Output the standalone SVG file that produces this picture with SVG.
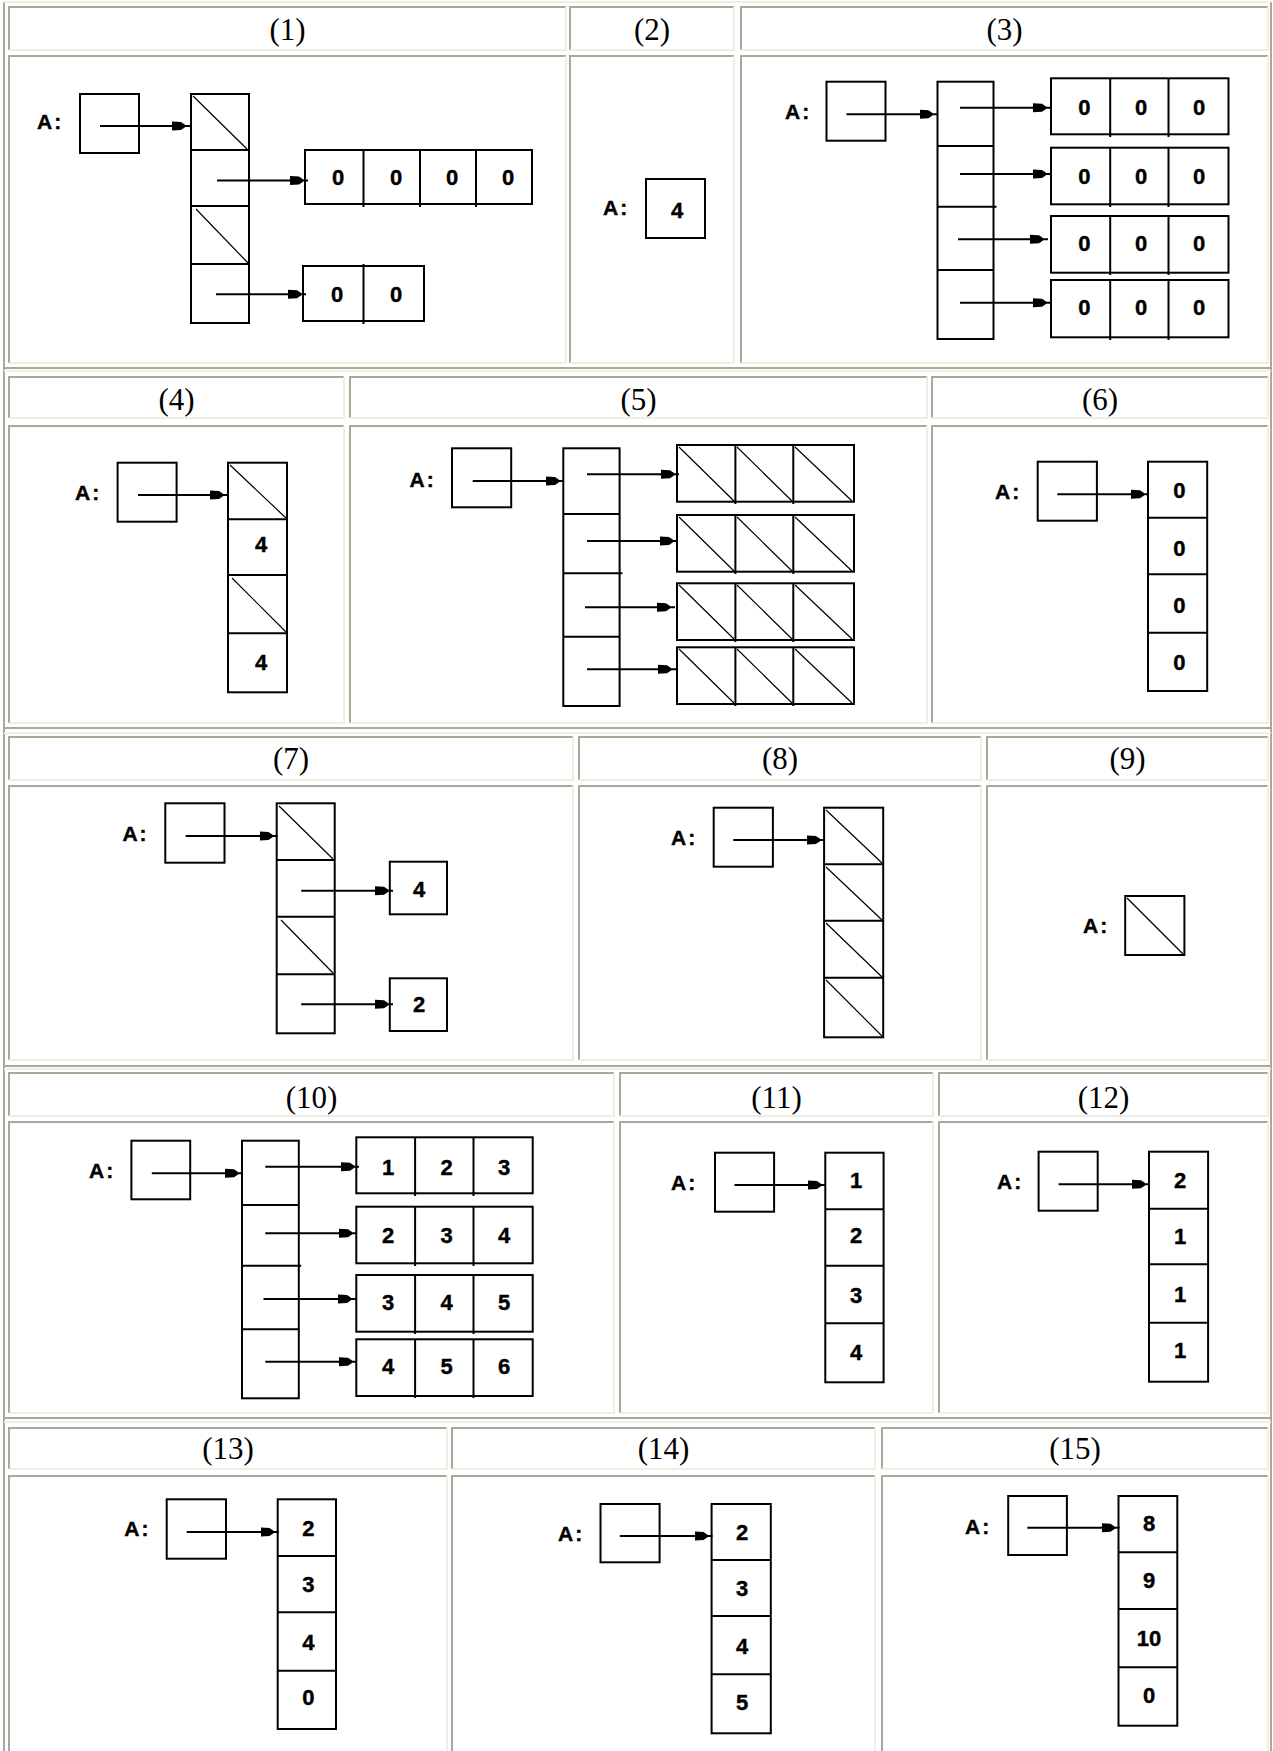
<svg xmlns="http://www.w3.org/2000/svg" width="1273" height="1751" viewBox="0 0 1273 1751">
<style>
.d{stroke:#aca899;stroke-width:2;fill:none}
.l{stroke:#f0eee0;stroke-width:2;fill:none}
.bx{fill:none;stroke:#000;stroke-width:2}
.dv{fill:none;stroke:#000;stroke-width:2}
.dg{fill:none;stroke:#000;stroke-width:1.2}
.ar{stroke:#000;stroke-width:2;fill:none;marker-end:url(#ah)}
.h{font-family:"Liberation Serif","Times New Roman",serif;font-size:31px;text-anchor:middle;fill:#000}
.a{font-family:"Liberation Sans",Arial,sans-serif;font-weight:bold;font-size:21px;letter-spacing:2px;fill:#000;stroke:#000;stroke-width:0.4}
.n{font-family:"Liberation Sans",Arial,sans-serif;font-weight:bold;font-size:22px;text-anchor:middle;fill:#000;stroke:#000;stroke-width:0.4}
</style>
<defs>
<marker id="ah" markerUnits="userSpaceOnUse" markerWidth="20" markerHeight="12" viewBox="0 -6 20 12" refX="18" refY="0" orient="auto">
<path d="M0,-4.5 L9,-4 L13,-1.2 L13,1.2 L9,4 L0,4.5 Z" fill="#000"/>
</marker>
</defs>
<rect x="0" y="0" width="1273" height="1751" fill="#fff"/>
<g id="table">
<path class="d" d="M4 2 V1751 M1271 2 V1751"/>
<path class="l" d="M4 2 H1271 M4 371 H1271 M4 733 H1271 M4 1069 H1271 M4 1422 H1271"/>
<path class="d" d="M4 368 H1271 M4 728 H1271 M4 1066 H1271 M4 1418 H1271"/>
<path class="d" d="M9 50 V7 H566 M570 50 V7 H734 M741 50 V7 H1268 M9 363 V56 H566 M570 363 V56 H734 M741 363 V56 H1268"/>
<path class="l" d="M566 7 V50 H9 M734 7 V50 H570 M1268 7 V50 H741 M566 56 V363 H9 M734 56 V363 H570 M1268 56 V363 H741"/>
<path class="d" d="M9 418 V377 H344 M350 418 V377 H927 M932 418 V377 H1268 M9 723 V426 H344 M350 723 V426 H927 M932 723 V426 H1268"/>
<path class="l" d="M344 377 V418 H9 M927 377 V418 H350 M1268 377 V418 H932 M344 426 V723 H9 M927 426 V723 H350 M1268 426 V723 H932"/>
<path class="d" d="M9 780 V737 H573 M579 780 V737 H981 M987 780 V737 H1268 M9 1060 V786 H573 M579 1060 V786 H981 M987 1060 V786 H1268"/>
<path class="l" d="M573 737 V780 H9 M981 737 V780 H579 M1268 737 V780 H987 M573 786 V1060 H9 M981 786 V1060 H579 M1268 786 V1060 H987"/>
<path class="d" d="M9 1116 V1073 H614 M620 1116 V1073 H933 M939 1116 V1073 H1268 M9 1413 V1122 H614 M620 1413 V1122 H933 M939 1413 V1122 H1268"/>
<path class="l" d="M614 1073 V1116 H9 M933 1073 V1116 H620 M1268 1073 V1116 H939 M614 1122 V1413 H9 M933 1122 V1413 H620 M1268 1122 V1413 H939"/>
<path class="d" d="M9 1469 V1428 H447 M452 1469 V1428 H875 M882 1469 V1428 H1268 M9 1760 V1476 H447 M452 1760 V1476 H875 M882 1760 V1476 H1268"/>
<path class="l" d="M447 1428 V1469 H9 M875 1428 V1469 H452 M1268 1428 V1469 H882 M447 1476 V1760 M875 1476 V1760 M1268 1476 V1760"/>
</g>
<g id="headers">
<text class="h" x="287.5" y="39.5">(1)</text>
<text class="h" x="652" y="39.5">(2)</text>
<text class="h" x="1004.5" y="39.5">(3)</text>
<text class="h" x="176.5" y="409.5">(4)</text>
<text class="h" x="638.5" y="409.5">(5)</text>
<text class="h" x="1100" y="409.5">(6)</text>
<text class="h" x="291" y="768.5">(7)</text>
<text class="h" x="780" y="768.5">(8)</text>
<text class="h" x="1127.5" y="768.5">(9)</text>
<text class="h" x="311.5" y="1107.5">(10)</text>
<text class="h" x="776.5" y="1107.5">(11)</text>
<text class="h" x="1103.5" y="1107.5">(12)</text>
<text class="h" x="228" y="1458.5">(13)</text>
<text class="h" x="663.5" y="1458.5">(14)</text>
<text class="h" x="1075" y="1458.5">(15)</text>
</g>
<g id="p1-A"><text class="a" x="37" y="129">A:</text><rect class="bx" x="80" y="94" width="59" height="59"/></g>
<g id="p1-col"><rect class="bx" x="191" y="94" width="58" height="229"/><path class="dv" d="M191 150 H249 M191 206 H249 M191 264 H249"/><path class="dg" d="M193 96 L247 149 M196 209 L248 263"/></g>
<g id="p1-row1"><rect class="bx" x="305" y="150" width="227" height="54"/><path class="dv" d="M363.5 150 V207 M420 150 V207 M476 150 V207"/><text class="n" x="338" y="185">0</text><text class="n" x="396" y="185">0</text><text class="n" x="452" y="185">0</text><text class="n" x="508" y="185">0</text></g>
<g id="p1-row2"><rect class="bx" x="303" y="266" width="121" height="55"/><path class="dv" d="M363.5 264 V324"/><text class="n" x="337" y="301.5">0</text><text class="n" x="396" y="301.5">0</text></g>
<g id="p2-A"><text class="a" x="603" y="214.5">A:</text><rect class="bx" x="646" y="179" width="59" height="59"/><text class="n" x="677" y="217.5">4</text></g>
<g id="p3-A"><text class="a" x="785" y="119">A:</text><rect class="bx" x="826.5" y="81.7" width="59" height="59"/></g>
<g id="p3-col"><rect class="bx" x="937.5" y="81.7" width="56" height="257.3"/><path class="dv" d="M937.5 146 H993.5 M937.5 206.7 H996.5 M937.5 270 H993.5"/></g>
<g id="p3-rows">
<rect class="bx" x="1051" y="78.3" width="177.5" height="56"/><path class="dv" d="M1110.2 78.3 V137 M1168.5 78.3 V137"/>
<rect class="bx" x="1051" y="147.7" width="177.5" height="56.6"/><path class="dv" d="M1110.2 147.7 V207 M1168.5 147.7 V207"/>
<rect class="bx" x="1051" y="216" width="177.5" height="56.7"/><path class="dv" d="M1110.2 216 V275 M1168.5 216 V275"/>
<rect class="bx" x="1051" y="280" width="177.5" height="57.3"/><path class="dv" d="M1110.2 280 V340 M1168.5 280 V340"/>
<text class="n" x="1084.3" y="115">0</text><text class="n" x="1141.2" y="115">0</text><text class="n" x="1199" y="115">0</text>
<text class="n" x="1084.3" y="183.5">0</text><text class="n" x="1141.2" y="183.5">0</text><text class="n" x="1199" y="183.5">0</text>
<text class="n" x="1084.3" y="251">0</text><text class="n" x="1141.2" y="251">0</text><text class="n" x="1199" y="251">0</text>
<text class="n" x="1084.3" y="315">0</text><text class="n" x="1141.2" y="315">0</text><text class="n" x="1199" y="315">0</text>
</g>
<g id="p4-A"><text class="a" x="75" y="500">A:</text><rect class="bx" x="117.6" y="462.7" width="59" height="59"/></g>
<g id="p4-col"><rect class="bx" x="228" y="462.7" width="59" height="229.6"/><path class="dv" d="M228 519.3 H287 M228 575 H287 M228 633.3 H287"/><path class="dg" d="M230 465 L286 518 M232 578 L286 632"/><text class="n" x="261" y="551.5">4</text><text class="n" x="261" y="670">4</text></g>
<g id="p5-A"><text class="a" x="409.5" y="486.5">A:</text><rect class="bx" x="452" y="448.3" width="59.2" height="59"/></g>
<g id="p5-col"><rect class="bx" x="563.3" y="448.3" width="56.3" height="257.7"/><path class="dv" d="M563.3 514 H619.6 M563.3 573.3 H622.4 M563.3 636.7 H619.6"/></g>
<g id="p5-rows">
<rect class="bx" x="677" y="445" width="177" height="56.7"/><path class="dv" d="M735.4 445 V504 M793.3 445 V504"/>
<rect class="bx" x="677" y="515" width="177" height="56.7"/><path class="dv" d="M735.4 515 V574 M793.3 515 V574"/>
<rect class="bx" x="677" y="583.3" width="177" height="56.7"/><path class="dv" d="M735.4 583.3 V642 M793.3 583.3 V642"/>
<rect class="bx" x="677" y="647.3" width="177" height="56.7"/><path class="dv" d="M735.4 647.3 V706 M793.3 647.3 V706"/>
<path class="dg" d="M679 447 L734 501 M737 447 L792 501 M795 447 L852 501 M679 517 L734 571 M737 517 L792 571 M795 517 L852 571 M679 585 L734 639 M737 585 L792 639 M795 585 L852 639 M679 649 L734 703 M737 649 L792 703 M795 649 L852 703"/>
</g>
<g id="p6-A"><text class="a" x="995" y="499">A:</text><rect class="bx" x="1037.7" y="461.7" width="59.2" height="59"/></g>
<g id="p6-col"><rect class="bx" x="1148" y="461.7" width="59.2" height="229.3"/><path class="dv" d="M1148 517.7 H1207.2 M1148 574.3 H1207.2 M1148 632.7 H1207.2"/><text class="n" x="1179.4" y="498">0</text><text class="n" x="1179.4" y="556">0</text><text class="n" x="1179.4" y="613">0</text><text class="n" x="1179.4" y="670">0</text></g>
<g id="p7-A"><text class="a" x="122.4" y="840.5">A:</text><rect class="bx" x="165.3" y="803.3" width="59.2" height="59.4"/></g>
<g id="p7-col"><rect class="bx" x="276.7" y="803.3" width="58" height="230"/><path class="dv" d="M276.7 860 H334.7 M276.7 916.7 H334.7 M276.7 974.3 H334.7"/><path class="dg" d="M279 806 L333 859 M281 920 L333 973"/></g>
<g id="p7-b1"><rect class="bx" x="389.8" y="861.7" width="57.2" height="52.6"/><text class="n" x="419.2" y="896.5">4</text></g>
<g id="p7-b2"><rect class="bx" x="389.8" y="978.3" width="57.2" height="52.7"/><text class="n" x="419.2" y="1012">2</text></g>
<g id="p8-A"><text class="a" x="671" y="845">A:</text><rect class="bx" x="713.7" y="807.7" width="59.2" height="59"/></g>
<g id="p8-col"><rect class="bx" x="824.1" y="807.7" width="59.1" height="229.6"/><path class="dv" d="M824.1 864.3 H883.2 M824.1 920.7 H883.2 M824.1 977.7 H883.2"/><path class="dg" d="M826 810 L882 863 M826 867 L882 920 M826 923 L882 977 M826 980 L882 1036"/></g>
<g id="p9-A"><text class="a" x="1083" y="932.5">A:</text><rect class="bx" x="1125.2" y="896" width="59.2" height="59"/><path class="dg" d="M1127 898 L1183 954"/></g>
<g id="p10-A"><text class="a" x="89" y="1178.3">A:</text><rect class="bx" x="131.4" y="1140.7" width="58.8" height="58.6"/></g>
<g id="p10-col"><rect class="bx" x="242" y="1140.7" width="56.8" height="257.6"/><path class="dv" d="M242 1205 H298.8 M242 1265.7 H301.2 M242 1329.3 H298.8"/></g>
<g id="p10-rows">
<rect class="bx" x="356.3" y="1137.3" width="176.4" height="56"/><path class="dv" d="M415.1 1137.3 V1196 M473.5 1137.3 V1196"/>
<rect class="bx" x="356.3" y="1206.7" width="176.4" height="56.6"/><path class="dv" d="M415.1 1206.7 V1266 M473.5 1206.7 V1266"/>
<rect class="bx" x="356.3" y="1275" width="176.4" height="56.7"/><path class="dv" d="M415.1 1275 V1334 M473.5 1275 V1334"/>
<rect class="bx" x="356.3" y="1339.3" width="176.4" height="56.7"/><path class="dv" d="M415.1 1339.3 V1398 M473.5 1339.3 V1398"/>
<text class="n" x="388" y="1174.7">1</text><text class="n" x="446.5" y="1174.7">2</text><text class="n" x="504" y="1174.7">3</text>
<text class="n" x="388" y="1243">2</text><text class="n" x="446.5" y="1243">3</text><text class="n" x="504" y="1243">4</text>
<text class="n" x="388" y="1310">3</text><text class="n" x="446.5" y="1310">4</text><text class="n" x="504" y="1310">5</text>
<text class="n" x="388" y="1374">4</text><text class="n" x="446.5" y="1374">5</text><text class="n" x="504" y="1374">6</text>
</g>
<g id="p11-A"><text class="a" x="671" y="1189.5">A:</text><rect class="bx" x="715" y="1152.7" width="59.1" height="59"/></g>
<g id="p11-col"><rect class="bx" x="825.3" y="1152.7" width="58.3" height="229.6"/><path class="dv" d="M825.3 1209.3 H883.6 M825.3 1265.7 H883.6 M825.3 1323.3 H883.6"/><text class="n" x="856" y="1188">1</text><text class="n" x="856" y="1243">2</text><text class="n" x="856" y="1303">3</text><text class="n" x="856" y="1359.7">4</text></g>
<g id="p12-A"><text class="a" x="997" y="1188.7">A:</text><rect class="bx" x="1038.6" y="1151.7" width="59.1" height="59"/></g>
<g id="p12-col"><rect class="bx" x="1149" y="1151.7" width="59.1" height="230"/><path class="dv" d="M1149 1208.7 H1208.1 M1149 1264.3 H1208.1 M1149 1322.7 H1208.1"/><text class="n" x="1180.2" y="1188">2</text><text class="n" x="1180.2" y="1243.7">1</text><text class="n" x="1180.2" y="1302.3">1</text><text class="n" x="1180.2" y="1358">1</text></g>
<g id="p13-A"><text class="a" x="124.3" y="1535.7">A:</text><rect class="bx" x="166.7" y="1499.3" width="59.3" height="59.4"/></g>
<g id="p13-col"><rect class="bx" x="277.7" y="1499.3" width="58.3" height="229.7"/><path class="dv" d="M277.7 1556 H336 M277.7 1612.3 H336 M277.7 1670.7 H336"/><text class="n" x="308.3" y="1535.7">2</text><text class="n" x="308.3" y="1592">3</text><text class="n" x="308.3" y="1649.7">4</text><text class="n" x="308.3" y="1705.3">0</text></g>
<g id="p14-A"><text class="a" x="558" y="1540.5">A:</text><rect class="bx" x="600.5" y="1504" width="59.1" height="58.3"/></g>
<g id="p14-col"><rect class="bx" x="711.6" y="1504" width="59.2" height="229.3"/><path class="dv" d="M711.6 1560 H770.8 M711.6 1616 H770.8 M711.6 1674.3 H770.8"/><text class="n" x="742" y="1539.7">2</text><text class="n" x="742" y="1595.7">3</text><text class="n" x="742" y="1654">4</text><text class="n" x="742" y="1710.3">5</text></g>
<g id="p15-A"><text class="a" x="965" y="1533.7">A:</text><rect class="bx" x="1008.2" y="1496" width="58.7" height="59"/></g>
<g id="p15-col"><rect class="bx" x="1118.5" y="1496" width="58.8" height="229.7"/><path class="dv" d="M1118.5 1552.3 H1177.3 M1118.5 1609 H1177.3 M1118.5 1667.3 H1177.3"/><text class="n" x="1149" y="1531.3">8</text><text class="n" x="1149" y="1588">9</text><text class="n" x="1149" y="1646.3">10</text><text class="n" x="1149" y="1703">0</text></g>
<g id="connectors">
<line class="ar" x1="100" y1="126" x2="190" y2="126"/>
<line class="ar" x1="217" y1="180.5" x2="308" y2="180.5"/>
<line class="ar" x1="216" y1="294.3" x2="306" y2="294.3"/>
<line class="ar" x1="846.5" y1="114.3" x2="937.5" y2="114.3"/>
<line class="ar" x1="960" y1="107.7" x2="1051" y2="107.7"/>
<line class="ar" x1="960" y1="174" x2="1051" y2="174"/>
<line class="ar" x1="958" y1="239.3" x2="1048" y2="239.3"/>
<line class="ar" x1="960" y1="302.7" x2="1051" y2="302.7"/>
<line class="ar" x1="138" y1="495" x2="228" y2="495"/>
<line class="ar" x1="472.7" y1="481" x2="564" y2="481"/>
<line class="ar" x1="587" y1="474.3" x2="679" y2="474.3"/>
<line class="ar" x1="587" y1="541" x2="678" y2="541"/>
<line class="ar" x1="585" y1="607.3" x2="675" y2="607.3"/>
<line class="ar" x1="587" y1="669.3" x2="676" y2="669.3"/>
<line class="ar" x1="1057.3" y1="494.3" x2="1149" y2="494.3"/>
<line class="ar" x1="185.7" y1="836" x2="277.5" y2="836"/>
<line class="ar" x1="301.2" y1="890.7" x2="393" y2="890.7"/>
<line class="ar" x1="301.2" y1="1004.3" x2="393" y2="1004.3"/>
<line class="ar" x1="733.3" y1="840" x2="825" y2="840"/>
<line class="ar" x1="151.8" y1="1173.3" x2="243" y2="1173.3"/>
<line class="ar" x1="265.3" y1="1166.7" x2="359" y2="1166.7"/>
<line class="ar" x1="265.3" y1="1233.3" x2="357" y2="1233.3"/>
<line class="ar" x1="263.5" y1="1299" x2="356" y2="1299"/>
<line class="ar" x1="265.3" y1="1361.7" x2="357" y2="1361.7"/>
<line class="ar" x1="734.5" y1="1185" x2="826" y2="1185"/>
<line class="ar" x1="1058.6" y1="1184.3" x2="1150" y2="1184.3"/>
<line class="ar" x1="186.7" y1="1532" x2="278.5" y2="1532"/>
<line class="ar" x1="619.8" y1="1536" x2="712.5" y2="1536"/>
<line class="ar" x1="1027.3" y1="1527.7" x2="1119.5" y2="1527.7"/>
</g>
</svg>
